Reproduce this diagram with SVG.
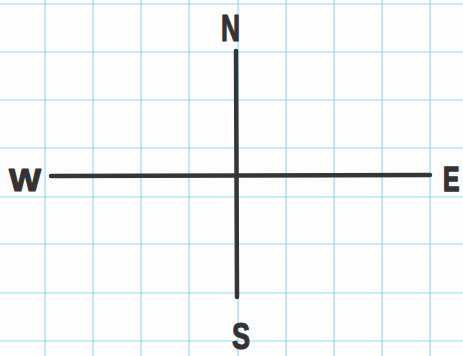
<svg xmlns="http://www.w3.org/2000/svg" width="463" height="356" viewBox="0 0 463 356">
<style>
.grid line{stroke:#74d2ef;stroke-width:1.2;opacity:0.75}
.axis{stroke:#353535;stroke-width:4.5;stroke-linecap:round}
.lbl{font-family:"Liberation Sans",Arial,sans-serif;font-weight:bold;fill:#333;stroke:#333;stroke-width:1.2;stroke-linejoin:round}
</style>
<rect width="463" height="356" fill="#fdfdfd"/>
<g class="grid">
<line x1="45" y1="0" x2="45" y2="356"/>
<line x1="93" y1="0" x2="93" y2="356"/>
<line x1="141" y1="0" x2="141" y2="356"/>
<line x1="189" y1="0" x2="189" y2="356"/>
<line x1="238" y1="0" x2="238" y2="356"/>
<line x1="286" y1="0" x2="286" y2="356"/>
<line x1="334" y1="0" x2="334" y2="356"/>
<line x1="382" y1="0" x2="382" y2="356"/>
<line x1="430" y1="0" x2="430" y2="356"/>
<line x1="0" y1="4" x2="463" y2="4"/>
<line x1="0" y1="52" x2="463" y2="52"/>
<line x1="0" y1="100" x2="463" y2="100"/>
<line x1="0" y1="148" x2="463" y2="148"/>
<line x1="0" y1="197" x2="463" y2="197"/>
<line x1="0" y1="244" x2="463" y2="244"/>
<line x1="0" y1="293" x2="463" y2="293"/>
<line x1="0" y1="341" x2="463" y2="341"/>
</g>
<g id="connectors">
<line class="axis" x1="236" y1="51" x2="237" y2="297"/>
<line class="axis" x1="51" y1="176" x2="430" y2="175"/>
</g>
<g id="north"><text class="lbl" x="221" y="41" font-size="36" textLength="19" lengthAdjust="spacingAndGlyphs">N</text></g>
<g id="west"><text class="lbl" x="9" y="191" font-size="32" textLength="32" lengthAdjust="spacingAndGlyphs">W</text></g>
<g id="east"><text class="lbl" x="0" y="0" font-size="26" transform="translate(443,191) scale(0.95,1.35)">E</text></g>
<g id="south"><text class="lbl" x="232" y="349" font-size="36" textLength="18" lengthAdjust="spacingAndGlyphs">S</text></g>
</svg>
